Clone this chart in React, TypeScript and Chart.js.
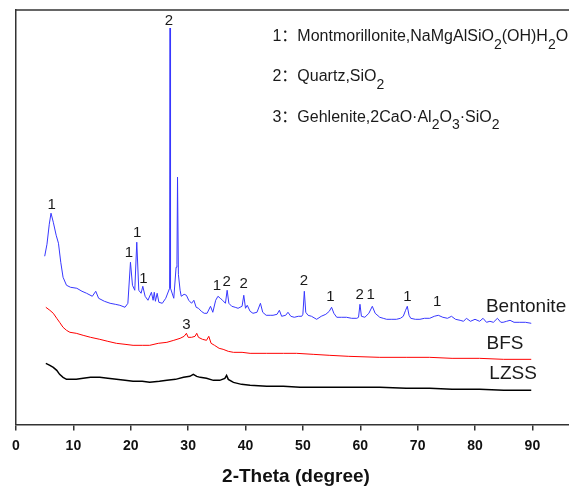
import React, { useEffect, useRef } from 'react';
import { Chart, registerables } from 'chart.js';

Chart.register(...registerables);

// 2-Theta (degree) and relative intensity (a.u.)
const bentoniteTheta = [5.0, 5.4, 5.8, 6.1, 6.5, 7.0, 7.4, 7.8, 8.2, 8.8, 9.5, 10.6, 11.5, 12.3, 13.3, 13.9, 14.4, 15.4, 16.4, 17.3, 18.1, 19.0, 19.5, 19.95, 20.3, 20.7, 21.05, 21.4, 21.8, 22.1, 22.5, 23.0, 23.6, 23.9, 24.1, 24.3, 24.6, 24.9, 25.5, 26.1, 26.77, 26.85, 26.93, 27.5, 27.9, 28.05, 28.15, 28.3, 28.6, 28.8, 29.3, 29.7, 30.1, 30.6, 31.0, 31.4, 31.8, 32.3, 32.8, 33.3, 33.9, 34.3, 34.8, 35.2, 35.6, 36.0, 36.5, 36.8, 37.1, 37.6, 38.2, 38.7, 39.4, 39.7, 40.0, 40.3, 40.8, 41.3, 42.0, 42.6, 43.0, 43.6, 44.3, 44.8, 45.5, 45.9, 46.3, 47.0, 47.4, 47.9, 48.5, 49.2, 49.8, 50.0, 50.25, 50.5, 50.9, 51.5, 52.4, 53.2, 54.0, 54.6, 55.0, 55.4, 55.9, 56.7, 57.6, 58.5, 59.4, 59.7, 59.95, 60.2, 60.8, 61.5, 62.1, 62.6, 63.4, 64.0, 64.6, 65.5, 66.3, 67.0, 67.5, 67.9, 68.2, 68.5, 68.8, 69.6, 70.4, 71.2, 72.1, 72.9, 73.6, 74.4, 75.2, 75.9, 76.6, 77.4, 78.0, 78.5, 79.2, 80.0, 80.8, 81.4, 82.0, 82.6, 83.2, 83.9, 84.5, 84.9, 85.5, 86.1, 86.8, 87.8, 88.8, 89.8];
const bentoniteIntensity = [168, 180, 200, 211, 202, 189, 181, 162, 147, 139, 137, 136, 133, 131, 128, 133, 126, 123, 121, 120, 119, 117, 121, 162, 139, 134, 182, 134, 131, 138, 128, 124, 132, 124, 132, 123, 131, 122, 121, 126, 136, 396, 136, 126, 157, 160, 247, 150, 134, 128, 130, 129, 124, 121, 124, 117, 116, 113, 111, 111, 118, 112, 124, 128, 126, 124, 121, 134, 121, 118, 117, 116, 118, 129, 116, 119, 113, 111, 112, 121, 112, 109, 109, 109, 110, 114, 108, 109, 112, 108, 107, 108, 108, 110, 133, 112, 109, 108, 105, 108, 110, 113, 117, 111, 107, 107, 107, 106, 106, 107, 120, 108, 107, 111, 118, 111, 107, 106, 105, 105, 105, 106, 108, 114, 118, 109, 106, 105, 105, 106, 106, 108, 109, 107, 106, 108, 105, 104, 103, 106, 103, 105, 103, 106, 102, 103, 102, 106, 102, 102, 103, 104, 102, 102, 102, 101];

const bfsTheta = [5.2, 5.9, 6.5, 7.1, 7.6, 8.2, 8.8, 9.4, 10.5, 11.7, 13.0, 14.6, 16.0, 17.5, 19.0, 20.4, 22.0, 23.3, 24.8, 26.3, 27.5, 28.6, 29.3, 29.7, 30.0, 30.6, 31.2, 31.5, 31.8, 32.5, 33.2, 33.6, 34.0, 34.6, 35.4, 36.1, 37.0, 37.9, 39.4, 40.8, 43.7, 46.6, 48.9, 51.8, 54.7, 58.0, 63.4, 68.0, 72.1, 76.0, 80.8, 85.0, 89.8];
const bfsIntensity = [117, 114, 111, 106, 102, 97, 94, 92, 91, 89, 87, 85, 83, 81, 80, 79, 79, 79, 81, 82, 84, 86, 88, 91, 87, 87, 88, 91, 87, 85, 84, 88, 81, 79, 76, 75, 73, 72, 72, 71, 71, 71, 71, 70, 69, 68, 67, 67, 67, 66, 66, 65, 65];

const lzssTheta = [5.2, 5.9, 6.5, 7.1, 7.6, 8.2, 8.8, 9.4, 10.5, 11.7, 13.0, 14.6, 16.0, 17.5, 19.0, 20.4, 22.0, 23.3, 25.0, 26.3, 27.8, 29.2, 30.3, 30.9, 31.5, 32.1, 33.2, 34.4, 35.5, 36.4, 36.7, 37.0, 37.9, 39.3, 40.8, 43.7, 46.6, 49.5, 54.7, 58.0, 63.4, 68.0, 72.1, 76.0, 80.8, 85.0, 89.8];
const lzssIntensity = [61, 59, 57, 54, 50, 47, 45, 45, 45, 46, 47, 47, 46, 45, 44, 43, 43, 42, 43, 44, 45, 47, 48, 50, 48, 47, 46, 44, 44, 46, 49, 45, 42, 40, 39, 38, 38, 37, 37, 37, 37, 36, 36, 35, 35, 34, 34];

const seriesNames = ['Bentonite', 'BFS', 'LZSS'];
const seriesColors = ['rgb(55,55,255)', 'rgb(255,0,0)', 'rgb(0,0,0)'];

// Phase labels on peaks
const peakText = ['1', '1', '1', '1', '2', '1', '2', '2', '2', '1', '2', '1', '1', '1', '3'];
const peakTheta = [6.2, 19.7, 21.1, 22.2, 26.65, 35.0, 36.7, 39.7, 50.2, 54.8, 59.9, 61.8, 68.2, 73.4, 29.7];
const peakIntensity = [219, 171, 191, 145, 403, 138, 142, 140, 143, 127, 129, 129, 127, 122, 99];

// Series name labels
const nameTheta = [81.9, 82.0, 82.5];
const nameIntensity = [118, 81, 51];

// Phase key ("_x" = subscript x)
const keyLines = [
  '1：Montmorillonite,NaMgAlSiO_2(OH)H_2O',
  '2：Quartz,SiO_2',
  '3：Gehlenite,2CaO·Al_2O_3·SiO_2',
];
const keyTheta = 44.7;
const keyIntensity = [387, 347, 307];

const xTicksMax = 97.6;
const yMax = 414;

const FONT = '"Liberation Sans", Arial, "Noto Sans CJK SC", sans-serif';
const AXIS_COLOR = '#333333';

function toPoints(xs: number[], ys: number[]) {
  return xs.map((x, i) => ({ x, y: ys[i] }));
}

function drawRich(ctx: CanvasRenderingContext2D, text: string, x: number, y: number) {
  let cx = x;
  for (let i = 0; i < text.length; i++) {
    let ch = text[i];
    let sub = false;
    if (ch === '_' && i + 1 < text.length) {
      sub = true;
      i++;
      ch = text[i];
    }
    ctx.font = sub ? `14px ${FONT}` : `16px ${FONT}`;
    ctx.fillText(ch, cx, sub ? y + 8 : y);
    cx += ctx.measureText(ch).width;
  }
}

const annotationPlugin = {
  id: 'xrdAnnotations',
  afterDatasetsDraw(chart: any) {
    const { ctx, chartArea, scales } = chart;
    const xs = scales.x;
    const ys = scales.y;
    ctx.save();
    ctx.strokeStyle = AXIS_COLOR;
    ctx.lineWidth = 1.5;
    ctx.beginPath();
    ctx.moveTo(chartArea.left, chartArea.top);
    ctx.lineTo(chartArea.right, chartArea.top);
    ctx.stroke();

    ctx.fillStyle = '#1a1a1a';
    ctx.textBaseline = 'middle';
    ctx.textAlign = 'center';
    ctx.font = `15px ${FONT}`;
    peakText.forEach((t, i) => {
      ctx.fillText(t, xs.getPixelForValue(peakTheta[i]), ys.getPixelForValue(peakIntensity[i]));
    });

    ctx.textAlign = 'left';
    ctx.font = `19px ${FONT}`;
    seriesNames.forEach((n, i) => {
      ctx.fillText(n, xs.getPixelForValue(nameTheta[i]), ys.getPixelForValue(nameIntensity[i]));
    });

    keyLines.forEach((line, i) => {
      drawRich(ctx, line, xs.getPixelForValue(keyTheta), ys.getPixelForValue(keyIntensity[i]));
    });
    ctx.restore();
  },
};

export default function App() {
  const canvasRef = useRef<HTMLCanvasElement | null>(null);

  useEffect(() => {
    if (!canvasRef.current) return;
    const datasets = [
      toPoints(bentoniteTheta, bentoniteIntensity),
      toPoints(bfsTheta, bfsIntensity),
      toPoints(lzssTheta, lzssIntensity),
    ].map((data, i) => ({
      label: seriesNames[i],
      data,
      borderColor: seriesColors[i],
      backgroundColor: seriesColors[i],
      borderWidth: i === 2 ? 1.5 : 1,
      pointRadius: 0,
      tension: 0,
      fill: false,
    }));

    const chart = new Chart(canvasRef.current, {
      type: 'line',
      data: { datasets },
      options: {
        animation: false,
        responsive: false,
        devicePixelRatio: 1,
        layout: { padding: { left: 16, top: 10, right: 24, bottom: 0 } },
        plugins: { legend: { display: false }, tooltip: { enabled: false } },
        scales: {
          x: {
            type: 'linear',
            min: 0,
            max: xTicksMax,
            ticks: {
              stepSize: 10,
              includeBounds: false,
              color: '#111',
              padding: 7,
              font: { family: FONT, size: 14, weight: 'bold' },
            },
            grid: {
              display: true,
              drawOnChartArea: false,
              drawTicks: true,
              tickLength: 6,
              color: AXIS_COLOR,
              lineWidth: 1.5,
            },
            border: { display: true, color: AXIS_COLOR, width: 1.5 },
            title: {
              display: true,
              text: '2-Theta (degree)',
              color: '#111',
              font: { family: FONT, size: 19, weight: 'bold' },
              padding: { top: 4, bottom: 0 },
            },
          },
          y: {
            type: 'linear',
            min: 0,
            max: yMax,
            ticks: { display: false },
            grid: { display: false, drawTicks: false },
            border: { display: true, color: AXIS_COLOR, width: 1.5 },
          },
        },
      },
      plugins: [annotationPlugin],
    } as any);
    return () => chart.destroy();
  }, []);

  return (
    <div
      style={{
        position: 'absolute',
        left: 0,
        top: 0,
        width: 569,
        height: 488,
        overflow: 'hidden',
        background: '#fff',
      }}
    >
      <canvas ref={canvasRef} width={600} height={488} style={{ display: 'block' }} />
    </div>
  );
}
